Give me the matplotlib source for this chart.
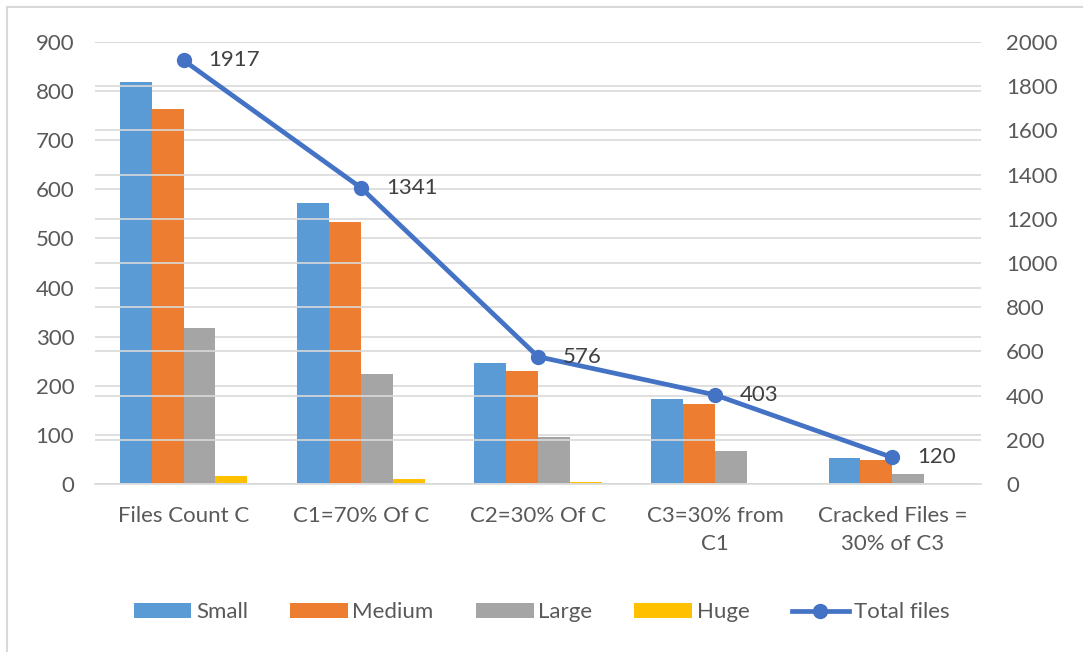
import matplotlib.pyplot as plt
import numpy as np
from matplotlib.lines import Line2D

plt.rcParams["font.family"] = ["Lato", "DejaVu Sans"]

categories = [
    "Files Count C",
    "C1=70% Of C",
    "C2=30% Of C",
    "C3=30% from\nC1",
    "Cracked Files =\n30% of C3",
]
small = [819, 573, 246, 173, 52]
medium = [763, 534, 230, 162, 48]
large = [318, 223, 95, 68, 20]
huge = [17, 11, 5, 0, 0]
total_files = [1917, 1341, 576, 403, 120]

series = [
    ("Small", small, "#5B9BD5"),
    ("Medium", medium, "#ED7D31"),
    ("Large", large, "#A5A5A5"),
    ("Huge", huge, "#FFC000"),
]

text_color = "#595959"
grid_color = "#D9D9D9"
fs = 16

fig = plt.figure(figsize=(10.83, 6.52), dpi=100)
ax = fig.add_axes([0.0877, 0.2577, 0.8181, 0.6779])
ax2 = ax.twinx()

x = np.arange(len(categories))
width = 0.18
for i, (name, vals, color) in enumerate(series):
    ax.bar(x + (i - 1.5) * width, vals, width, color=color, label=name, zorder=2)

ax.set_xlim(-0.5, len(categories) - 0.5)
ax.set_ylim(0, 900)
ax.set_yticks(range(0, 901, 100))
ax.set_xticks(x)
ax.set_xticklabels(categories, linespacing=1.5)

ax2.plot(x, total_files, color="#4472C4", lw=3.4, marker="o", ms=10,
         label="Total files", zorder=3)
ax2.set_ylim(0, 2000)
ax2.set_yticks(range(0, 2001, 200))

for xi, v in zip(x, total_files):
    ax2.annotate(str(v), (xi, v), xytext=(18, 0), textcoords="offset points",
                 ha="left", va="center", fontsize=fs, color="#404040")

for a in (ax, ax2):
    a.grid(axis="y", color=grid_color, lw=1.2, zorder=0)
    a.set_axisbelow(True)
    for s in a.spines.values():
        s.set_visible(False)
    a.tick_params(length=0, labelsize=fs, colors=text_color)
ax.spines["bottom"].set_visible(True)
ax.spines["bottom"].set_color(grid_color)
ax.spines["bottom"].set_linewidth(1.2)
ax.tick_params(axis="y", pad=15)
ax.tick_params(axis="x", pad=16)
ax2.tick_params(axis="y", pad=18)

handles = list(ax.get_legend_handles_labels()[0])
handles.append(Line2D([], [], color="#4472C4", lw=3.4, marker="o", ms=10))
labels = [s[0] for s in series] + ["Total files"]
fig.legend(handles, labels, loc="center", bbox_to_anchor=(0.5, 0.061), ncol=5,
           frameon=False, fontsize=fs, handlelength=2.6, handleheight=0.65,
           columnspacing=1.9, handletextpad=0.2, labelcolor=text_color)

# thin frame along the left and top edges
fig.add_artist(Line2D([0.0065, 0.0065], [0, 0.989], color=grid_color, lw=1.5,
                      transform=fig.transFigure))
fig.add_artist(Line2D([0.0065, 1], [0.989, 0.989], color=grid_color, lw=1.5,
                      transform=fig.transFigure))

fig.savefig("out.png", dpi=100)
